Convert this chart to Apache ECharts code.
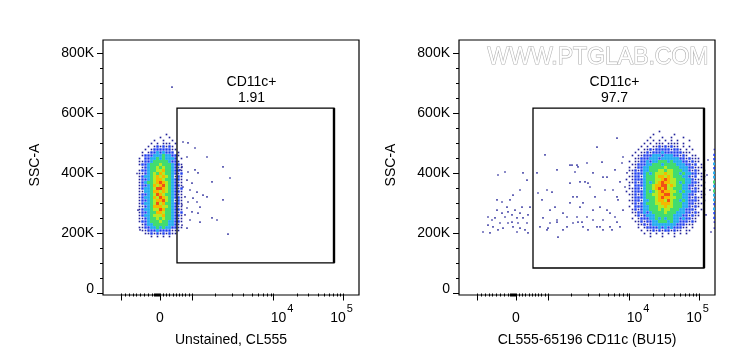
<!DOCTYPE html>
<html><head><meta charset="utf-8">
<script src="https://cdn.jsdelivr.net/npm/echarts@6/dist/echarts.min.js"></script>
<style>html,body{margin:0;padding:0;background:#fff}#c{width:736px;height:364px}</style>
</head><body><div id="c"></div>
<script>
// ---------- DATA ----------
// y axis: SSC-A in thousands; x axis: biexponential display channel (0..1024)
const yTickValues = [0, 200, 400, 600, 800];
const yTickLabels = ['0', '200K', '400K', '600K', '800K'];
const yMinorTicks = [50,100,150,250,300,350,450,500,550,650,700,750];
const xMajorTicks = [72, 228, 356, 680, 960];          // -10^3, 0, 10^3, 10^4, 10^5
const xLabelTicks = [228, 680, 960];
const xTickLabels = ['0', '10^4', '10^5'];
const xMinorTicks = [88,103,119,134,150,166,181,197,204,208,212,216,220,224,
  241,254,266,279,292,305,318,330,343,
  448,515,561,595,621,641,657,671,
  775,821,861,884,905,921,935,948];
const xTitles = ['Unstained, CL555', 'CL555-65196 CD11c (BU15)'];
const yTitle = 'SSC-A';
const gateNames = ['CD11c+', 'CD11c+'];
const gateValues = ['1.91', '97.7'];
const leftGate = [296, 924, 102, 618];   // x0, x1, y0, y1
const rightGate = [296, 980, 85, 618];
const watermark = 'WWW.PTGLAB.COM';

// density grids: rows of levels (0 empty .. 7 max), cell 12 ch x 10K
const leftBlobOrigin = [140, 530];
const leftBlobRows = [
"000000000100000",
"000000010010000",
"000001001001000",
"000010101110100",
"000101212121000",
"001012222221100",
"010122323222010",
"012223334332210",
"102233434333201",
"112234444432210",
"122344454443221",
"012344545443211",
"122344556443221",
"112345465443212",
"123345656543121",
"122345665443221",
"123445676543211",
"122346567543221",
"123345776543212",
"113346656543221",
"122345765443211",
"123346576543221",
"122345667543121",
"123345756443221",
"112346665543211",
"123345576443221",
"122344665443212",
"123345556443221",
"112344545443211",
"122344454433221",
"012334444433210",
"112233434332211",
"011222322221110",
"001121212121100",
"000010101010000"
];
const rightBlobOrigin = [664, 540];
const rightBlobRows = [
"000000000001000000000000000",
"000000000100000010000000000",
"000000001000100100010000000",
"000000010101010101000100000",
"000000101011101111010000000",
"000001010112121211010100000",
"000010112122222122101010000",
"000101121222322222211100000",
"001011222333233322121011000",
"000112223332333333221211100",
"010112232334443433322121100",
"001122233444344443332212010",
"010122334444454444333221110",
"011212334445545544433212101",
"001222343455565544343322110",
"011221344456656544433212011",
"101222344455676554443321110",
"011212343456766554343322101",
"010222344566775654433221110",
"011221344567675544433212101",
"101222343456766554343322110",
"011212344556677544433221011",
"001222344456766554433212110",
"011221334456657544343222101",
"001212344455666544433221110",
"010222334445565544433212100",
"001212334445455444332221010",
"001122323444454443332212100",
"000121233344444433322121100",
"001012223343434433232211000",
"000112122334443433222121000",
"000011212333333332221110000",
"000010122223232322211010000",
"000001011212122121101100000",
"000000101010101010101000000",
"000000001000100010000000000"
];
const rightEdge = [[1022,480,1],[1022,462,2],[1022,448,2],[1022,432,3],[1022,418,2],[1022,402,3],
  [1022,388,3],[1022,372,4],[1022,358,3],[1022,342,4],[1022,328,3],[1022,312,3],[1022,298,2],
  [1022,282,3],[1022,268,2],[1022,252,2],[1022,238,1],[1022,218,1]];

const leftSparse = [[276,688],[320,505],[340,502],[368,485],[336,455],[416,455],[316,422],[308,412],
  [340,405],[368,412],[380,402],[480,422],[508,385],[436,372],[336,378],[356,368],[320,355],[348,345],
  [376,338],[400,328],[416,322],[328,322],[360,318],[340,305],[376,305],[480,312],[316,295],[336,285],
  [388,288],[356,272],[328,262],[380,268],[436,252],[456,245],[348,245],[316,228],[336,218],[500,198],
  [388,238],[136,400],[140,278],[148,212]];
const rightSparse = [[96,205],[116,228],[144,252],[152,278],[156,395],[184,405],[172,305],[192,288],
  [204,312],[216,328],[212,262],[224,278],[232,252],[236,235],[244,268],[252,288],[256,252],[272,235],
  [276,262],[284,288],[264,212],[244,218],[216,222],[196,235],[176,218],[164,235],[136,222],[124,202],
  [212,238],[184,255],[156,212],[232,205],[276,202],[256,402],[272,378],[244,345],[196,272],[172,268],
  [116,255],[152,312],[132,245],
  [312,402],[344,462],[316,335],[332,312],[352,345],[372,338],[392,412],[364,278],[336,252],[324,222],
  [356,218],[392,245],[396,188],[416,268],[432,222],[444,368],[452,428],[464,405],[472,428],[484,372],
  [456,322],[484,288],[472,255],[492,238],[512,435],[516,368],[536,402],[552,488],[544,322],[564,288],
  [536,245],[564,222],[592,388],[584,345],[604,268],[612,212],[572,438],[624,412],[632,322],[632,238],
  [632,518],[652,435],[644,372],[616,345],[636,312],[576,245],[604,222],[512,255],[496,222],[456,235],
  [416,212],[364,235],[444,302],[472,322],[384,288],[432,255],[496,302],[536,278],[552,222],[576,212],
  [352,212],[392,238],[476,238],[516,212],[592,278],[624,255],[644,222],[656,278],[664,355],[672,402],
  [656,455],[444,428],[476,422],[504,372],[524,355],[576,388],
  [996,445],[1004,345],[988,262],[1008,205],[992,395]];

// ---------- RENDER ----------
const FONT = '"Liberation Sans", Arial, sans-serif';
const PALETTE = ['', '#20209a', '#1a3cf0', '#1eaaf0', '#42dc70', '#b4ea26', '#f6b800', '#f25016'];
const CELL_FILL = [0, 0.55, 0.8, 0.95, 1, 1, 1, 1];
const CELL_DX = 12, CELL_DY = 10;

function blobData(rows, origin) {
  const out = [];
  rows.forEach((row, j) => {
    for (let i = 0; i < row.length; i++) {
      const lv = +row[i];
      if (lv > 0) out.push([origin[0] + (i + 0.5) * CELL_DX, origin[1] - j * CELL_DY, lv]);
    }
  });
  return out;
}
function cellRender(params, api) {
  const lv = api.value(2);
  const c = api.coord([api.value(0), api.value(1)]);
  const s = api.size([CELL_DX, CELL_DY]);
  const f = CELL_FILL[lv];
  const w = s[0] * f, h = s[1] * f;
  return { type: 'rect', shape: { x: c[0] - w / 2, y: c[1] - h / 2, width: w, height: h },
    style: { fill: PALETTE[lv] } };
}
function gateSeries(g, gate, xi, yi) {
  return {
    type: 'custom', xAxisIndex: xi, yAxisIndex: yi, z: 10, clip: false,
    data: [gate],
    renderItem: function (params, api) {
      const p0 = api.coord([api.value(0), api.value(3)]);
      const p1 = api.coord([api.value(1), api.value(2)]);
      const cx = (p0[0] + p1[0]) / 2 - 4;
      return { type: 'group', children: [
        { type: 'rect', shape: { x: p0[0], y: p0[1], width: p1[0] - p0[0], height: p1[1] - p0[1] },
          style: { fill: 'none', stroke: '#000', lineWidth: 1.3 } },
        { type: 'line', shape: { x1: p1[0], y1: p0[1], x2: p1[0], y2: p1[1] },
          style: { stroke: '#000', lineWidth: 2.4 } },
        { type: 'text', x: cx, y: p0[1] - 26,
          style: { text: gateNames[g], fill: '#000', fontSize: 14, fontFamily: FONT, align: 'center', verticalAlign: 'middle' } },
        { type: 'text', x: cx, y: p0[1] - 10,
          style: { text: gateValues[g], fill: '#000', fontSize: 14, fontFamily: FONT, align: 'center', verticalAlign: 'middle' } }
      ] };
    }
  };
}
const xRich = {
  b: { fontSize: 14, fontFamily: FONT, color: '#000', lineHeight: 16, verticalAlign: 'bottom' },
  b1: { fontSize: 14, fontFamily: FONT, color: '#000', lineHeight: 16, verticalAlign: 'bottom', padding: [0, 0, 0, 18] },
  b2: { fontSize: 14, fontFamily: FONT, color: '#000', lineHeight: 16, verticalAlign: 'bottom' },
  s1: { fontSize: 11, fontFamily: FONT, color: '#000', lineHeight: 12, verticalAlign: 'bottom', padding: [0, 0, 11, 1] },
  s2: { fontSize: 11, fontFamily: FONT, color: '#000', lineHeight: 12, verticalAlign: 'bottom', padding: [0, 3, 11, 1] }
};
function xFmt(v) {
  const i = xLabelTicks.indexOf(v);
  const t = xTickLabels[i] || '';
  if (t.indexOf('^') < 0) return '{b|' + t + '}';
  const parts = t.split('^');
  return '{b' + i + '|' + parts[0] + '}{s' + i + '|' + parts[1] + '}';
}
const yRich = {
  a: { fontSize: 14, fontFamily: FONT, color: '#000' },
  z: { fontSize: 14, fontFamily: FONT, color: '#000', padding: [0, 0, 9, 0] }
};
function yFmt(v) {
  const t = yTickLabels[yTickValues.indexOf(v)];
  return v === 0 ? '{z|' + t + '}' : '{a|' + t + '}';
}
function xAxes(g) {
  const base = { gridIndex: g, type: 'value', min: 0, max: 1024, position: 'bottom', offset: 2,
    axisLine: { show: false }, splitLine: { show: false } };
  return [
    Object.assign({}, base, {
      axisTick: { show: true, length: 7, customValues: xMajorTicks, lineStyle: { color: '#000', width: 1 } },
      axisLabel: { show: true, customValues: xLabelTicks, margin: 28, verticalAlign: 'bottom', formatter: xFmt, rich: xRich } }),
    Object.assign({}, base, {
      axisTick: { show: true, length: 3, customValues: xMinorTicks, lineStyle: { color: '#000', width: 1 } },
      axisLabel: { show: false } })
  ];
}
function yAxes(g) {
  const base = { gridIndex: g, type: 'value', min: -5, max: 845, position: 'left', offset: 1,
    axisLine: { show: false }, splitLine: { show: false } };
  return [
    Object.assign({}, base, {
      axisTick: { show: true, length: 6, customValues: yTickValues, lineStyle: { color: '#000', width: 1 } },
      axisLabel: { show: true, customValues: yTickValues, margin: 8, formatter: yFmt, rich: yRich } }),
    Object.assign({}, base, {
      axisTick: { show: true, length: 3, customValues: yMinorTicks, lineStyle: { color: '#000', width: 1 } },
      axisLabel: { show: false } })
  ];
}
function txt(x, y, text, extra) {
  return Object.assign({ type: 'text', x: x, y: y, z: 100,
    style: { text: text, fill: '#000', fontSize: 14, fontFamily: FONT,
      align: 'center', textAlign: 'center', verticalAlign: 'middle', textVerticalAlign: 'middle' } }, extra || {});
}

const chart = echarts.init(document.getElementById('c'), null, { renderer: 'canvas' });
chart.setOption({
  animation: false,
  backgroundColor: '#fff',
  grid: [
    { left: 103, top: 40, width: 256, height: 255, show: true, borderColor: '#000', borderWidth: 1.2, backgroundColor: 'transparent' },
    { left: 459, top: 40, width: 256, height: 255, show: true, borderColor: '#000', borderWidth: 1.2, backgroundColor: 'transparent' }
  ],
  xAxis: xAxes(0).concat(xAxes(1)),
  yAxis: yAxes(0).concat(yAxes(1)),
  series: [
    { type: 'custom', xAxisIndex: 0, yAxisIndex: 0, clip: true, renderItem: cellRender,
      encode: { x: 0, y: 1 }, data: blobData(leftBlobRows, leftBlobOrigin) },
    { type: 'custom', xAxisIndex: 2, yAxisIndex: 2, clip: true, renderItem: cellRender,
      encode: { x: 0, y: 1 }, data: blobData(rightBlobRows, rightBlobOrigin) },
    { type: 'custom', xAxisIndex: 2, yAxisIndex: 2, clip: true, renderItem: cellRender,
      encode: { x: 0, y: 1 }, data: rightEdge },
    { type: 'scatter', xAxisIndex: 0, yAxisIndex: 0, symbol: 'rect', symbolSize: 1.7,
      itemStyle: { color: '#1c1c94' }, data: leftSparse },
    { type: 'scatter', xAxisIndex: 2, yAxisIndex: 2, symbol: 'rect', symbolSize: 1.7,
      itemStyle: { color: '#1c1c94' }, data: rightSparse },
    gateSeries(0, leftGate, 0, 0),
    gateSeries(1, rightGate, 2, 2)
  ],
  graphic: [
    txt(35, 165, yTitle, { rotation: Math.PI / 2 }),
    txt(391, 165, yTitle, { rotation: Math.PI / 2 }),
    txt(231, 340, xTitles[0]),
    txt(587, 340, xTitles[1]),
    { type: 'text', x: 598, y: 58, z: 100,
      style: { text: watermark, fill: '#ffffff', stroke: '#b4b4b4', lineWidth: 1.2,
        fontSize: 23, fontFamily: FONT, align: 'center', textAlign: 'center',
        verticalAlign: 'middle', textVerticalAlign: 'middle' } }
  ]
});
</script>
</body></html>
